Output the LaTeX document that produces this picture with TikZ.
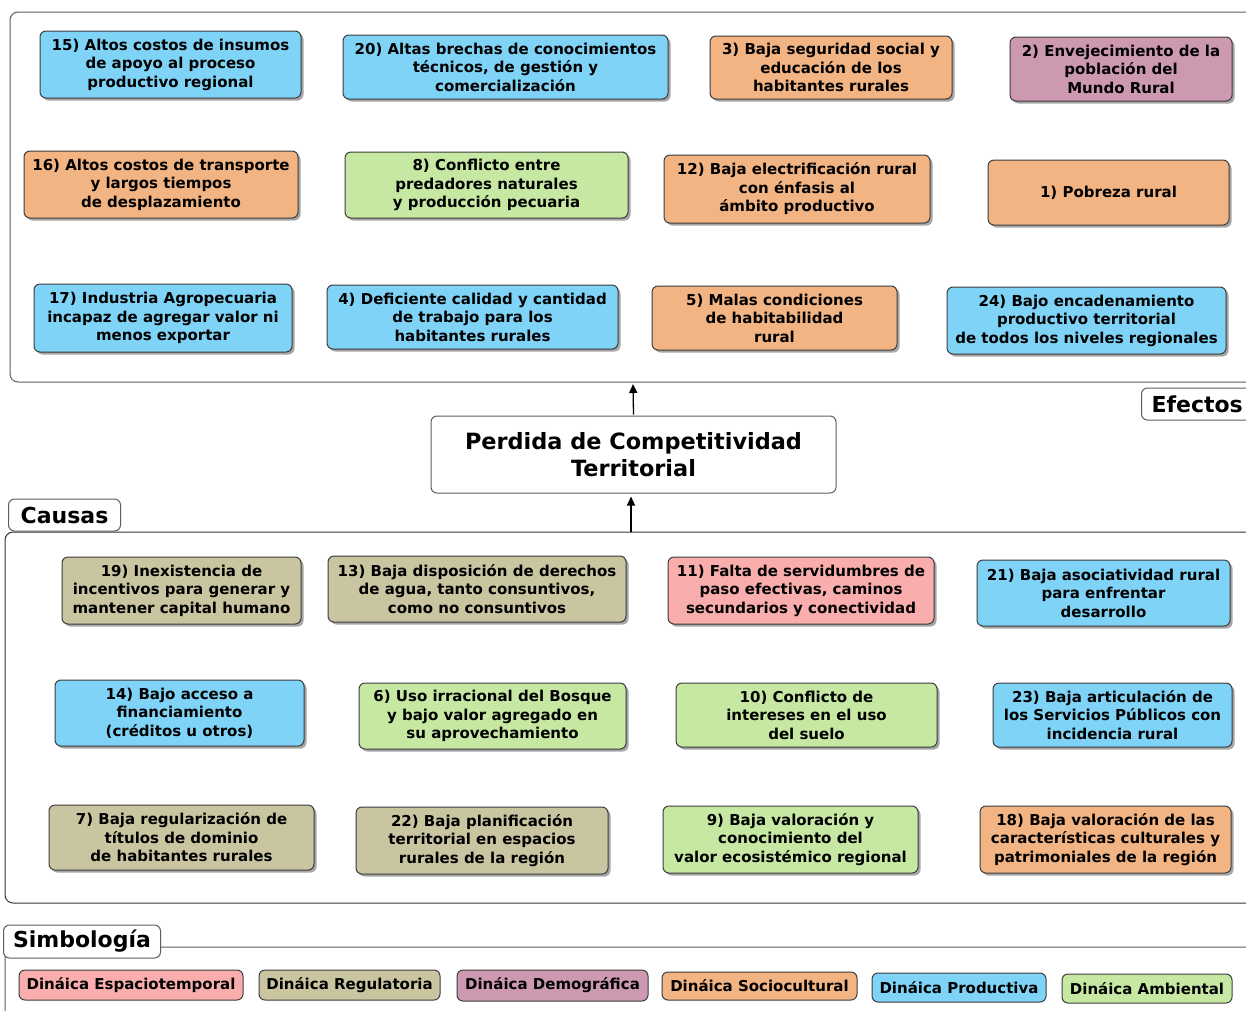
\documentclass[tikz,border=0pt]{standalone}
\usepackage{fontspec}
\setmainfont{DejaVu Sans}
\usetikzlibrary{shadows,arrows.meta}
\definecolor{cblue}{HTML}{7FD3F6}
\definecolor{corange}{HTML}{F2B483}
\definecolor{cgreen}{HTML}{C6E8A3}
\definecolor{cpurple}{HTML}{CC99B1}
\definecolor{ctan}{HTML}{C9C5A1}
\definecolor{cpink}{HTML}{F9ADAD}
\definecolor{cborder}{HTML}{3C3C3C}
\definecolor{cpanel}{HTML}{5E5E5E}
\tikzset{
  box/.style={draw=cborder, line width=1pt, rounded corners=6pt, align=center,
    font=\bfseries\fontsize{15}{18.5}\selectfont, inner sep=1pt,
    drop shadow={shadow xshift=2.5pt, shadow yshift=-2.5pt, opacity=0.35, fill=black}},
  legbox/.style={draw=cborder, line width=1pt, rounded corners=6pt, align=center,
    font=\bfseries\fontsize{15}{18}\selectfont, inner sep=1pt},
  panel/.style={draw=cpanel, line width=1pt, rounded corners=8pt},
  tag/.style={draw=cpanel, line width=1pt, rounded corners=6pt, fill=white,
    font=\bfseries\fontsize{22}{26}\selectfont, inner xsep=10pt, inner ysep=0pt, minimum height=32pt},
  arr/.style={-{Triangle[length=9pt,width=8pt]}, line width=1.3pt, black}
}
\begin{document}
\begin{tikzpicture}[x=1pt,y=-1pt]
\useasboundingbox (0,0) rectangle (1246,1010);
\clip (0,0) rectangle (1246,1010);
\fill[white] (0,0) rectangle (1246,1010);

% panels
\draw[panel] (10,12) rectangle (1275,382);
\coordinate (effbottom) at (633,382);
\draw[panel, draw=black!80] (5,532) rectangle (1275,903);
\coordinate (caustop) at (631,532);
\draw[panel] (5,947) rectangle (1275,1040);

% labels
\node[tag, anchor=west] (efectos) at (1141,404) {Efectos};
\node[tag, anchor=west, minimum width=112pt] (causas) at (8,515) {Causas};
\node[tag, anchor=west, inner xsep=8pt, minimum width=157pt, minimum height=33pt] (simb) at (3,941.5) {Simbología};

% central box
\node[draw=cpanel, line width=1pt, rounded corners=6pt, align=center,
  font=\bfseries\fontsize{22.4}{27}\selectfont, minimum width=405pt, minimum height=77pt, inner sep=0pt]
  (cbox) at (633.5,454.5) {Perdida de Competitividad\\Territorial};

\draw[arr, shorten >=2pt] (cbox.north) ++(0,-1) -- (effbottom);
\draw[arr, shorten >=3pt] (caustop) -- (caustop |- cbox.south);

% Effects
\node[box, fill=cblue, minimum width=261pt, minimum height=67pt] (n15) at (170.5,64.5) {15) Altos costos de insumos\\de apoyo al proceso\\productivo regional};
\node[box, fill=cblue, minimum width=325pt, minimum height=64pt] (n20) at (505.5,67) {20) Altas brechas de conocimientos\\técnicos, de gestión y\\comercialización};
\node[box, fill=corange, minimum width=242pt, minimum height=63pt] (n3) at (831,67.5) {3) Baja seguridad social y\\educación de los\\habitantes rurales};
\node[box, fill=cpurple, minimum width=222pt, minimum height=64pt] (n2) at (1121,69) {2) Envejecimiento de la\\población del\\Mundo Rural};

\node[box, fill=corange, minimum width=274pt, minimum height=67pt] (n16) at (161,184.5) {16) Altos costos de transporte\\y largos tiempos\\de desplazamiento};
\node[box, fill=cgreen, minimum width=283pt, minimum height=66pt] (n8) at (486.5,185) {8) Conflicto entre\\predadores naturales\\y producción pecuaria};
\node[box, fill=corange, minimum width=266pt, minimum height=68pt] (n12) at (797,189) {12) Baja electrificación rural\\con énfasis al\\ámbito productivo};
\node[box, fill=corange, minimum width=241pt, minimum height=65pt] (n1) at (1108.5,192.5) {1) Pobreza rural};

\node[box, fill=cblue, minimum width=258pt, minimum height=68pt] (n17) at (163,318) {17) Industria Agropecuaria\\incapaz de agregar valor ni\\menos exportar};
\node[box, fill=cblue, minimum width=291pt, minimum height=64pt] (n4) at (472.5,317) {4) Deficiente calidad y cantidad\\de trabajo para los\\habitantes rurales};
\node[box, fill=corange, minimum width=245pt, minimum height=64pt] (n5) at (774.5,318) {5) Malas condiciones\\de habitabilidad\\rural};
\node[box, fill=cblue, minimum width=279pt, minimum height=67pt] (n24) at (1086.5,320.5) {24) Bajo encadenamiento\\productivo territorial\\de todos los niveles regionales};

% Causes
\node[box, fill=ctan, minimum width=239pt, minimum height=67pt] (n19) at (181.5,590.5) {19) Inexistencia de\\incentivos para generar y\\mantener capital humano};
\node[box, fill=ctan, minimum width=298pt, minimum height=66pt] (n13) at (477,589) {13) Baja disposición de derechos\\de agua, tanto consuntivos,\\como no consuntivos};
\node[box, fill=cpink, minimum width=266pt, minimum height=67pt] (n11) at (801,590.5) {11) Falta de servidumbres de\\paso efectivas, caminos\\secundarios y conectividad};
\node[box, fill=cblue, minimum width=253pt, minimum height=66pt] (n21) at (1103.5,593) {21) Baja asociatividad rural\\para enfrentar\\desarrollo};

\node[box, fill=cblue, minimum width=249pt, minimum height=66pt] (n14) at (179.5,713) {14) Bajo acceso a\\financiamiento\\(créditos u otros)};
\node[box, fill=cgreen, minimum width=267pt, minimum height=66pt] (n6) at (492.5,716) {6) Uso irracional del Bosque\\y bajo valor agregado en\\su aprovechamiento};
\node[box, fill=cgreen, minimum width=261pt, minimum height=64pt] (n10) at (806.5,715) {10) Conflicto de\\intereses en el uso\\del suelo};
\node[box, fill=cblue, minimum width=239pt, minimum height=64pt] (n23) at (1112.5,715) {23) Baja articulación de\\los Servicios Públicos con\\incidencia rural};

\node[box, fill=ctan, minimum width=265pt, minimum height=65pt] (n7) at (181.5,837.5) {7) Baja regularización de\\títulos de dominio\\de habitantes rurales};
\node[box, fill=ctan, minimum width=252pt, minimum height=67pt] (n22) at (482,840.5) {22) Baja planificación\\territorial en espacios\\rurales de la región};
\node[box, fill=cgreen, minimum width=255pt, minimum height=67pt] (n9) at (790.5,839.5) {9) Baja valoración y\\conocimiento del\\valor ecosistémico regional};
\node[box, fill=corange, minimum width=251pt, minimum height=67pt] (n18) at (1105.5,839.5) {18) Baja valoración de las\\características culturales y\\patrimoniales de la región};

% Legend
\node[legbox, fill=cpink, minimum width=224pt, minimum height=30pt] (l1) at (131,985) {Dináica Espaciotemporal};
\node[legbox, fill=ctan, minimum width=181pt, minimum height=30pt] (l2) at (349.5,985) {Dináica Regulatoria};
\node[legbox, fill=cpurple, minimum width=191pt, minimum height=31pt] (l3) at (552.5,985.5) {Dináica Demográfica};
\node[legbox, fill=corange, minimum width=195pt, minimum height=28pt] (l4) at (759.5,986) {Dináica Sociocultural};
\node[legbox, fill=cblue, minimum width=174pt, minimum height=29pt] (l5) at (959,987.5) {Dináica Productiva};
\node[legbox, fill=cgreen, minimum width=170pt, minimum height=29pt] (l6) at (1147,988.5) {Dináica Ambiental};
\end{tikzpicture}
\end{document}
